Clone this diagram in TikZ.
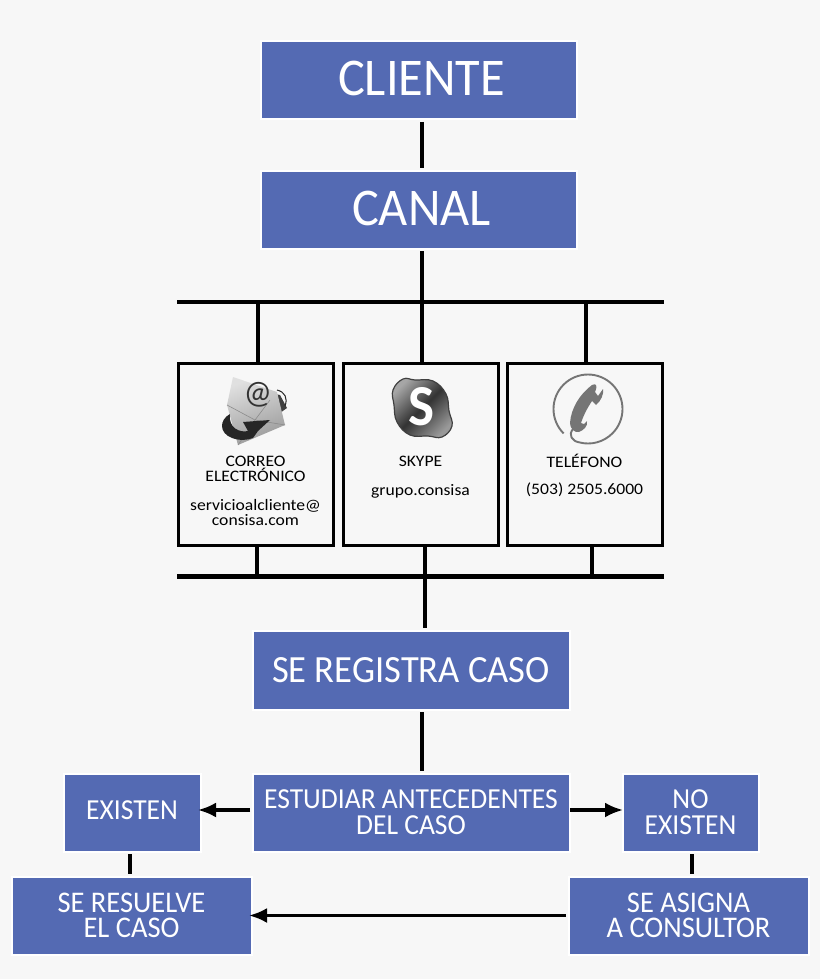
\documentclass[tikz,border=0pt]{standalone}
\usepackage{fontspec}
\setmainfont[FakeStretch=0.95]{Carlito}
\newfontfamily\smallfont[FakeStretch=1.1]{Carlito}
\usetikzlibrary{arrows.meta, positioning}
\definecolor{boxblue}{HTML}{546AB3}
\definecolor{pagegray}{HTML}{F7F7F7}
\definecolor{phonegray}{HTML}{757575}
\tikzset{
  bluebox/.style={draw=white, line width=2pt, fill=boxblue, text=white, align=center, inner sep=0pt, outer sep=2.5pt},
  canalbox/.style={draw=black, line width=3pt, fill=pagegray, minimum width=155pt, minimum height=182pt, outer sep=0pt},
  smalltext/.style={align=center, text=black, font=\smallfont\fontsize{16}{15}\selectfont, inner sep=0pt},
  conn/.style={draw=black, line width=3.2pt},
  bus/.style={draw=black, line width=4.2pt},
  busthick/.style={draw=black, line width=5pt},
}
\begin{document}
\begin{tikzpicture}[x=1pt,y=-1pt,>={Latex[length=18pt,width=15pt]}]
\fill[pagegray] (0,0) rectangle (820,979);
\useasboundingbox (0,0) rectangle (820,979);

% upper boxes
\node[bluebox, minimum width=316pt, minimum height=78pt, text depth=4pt, font=\fontsize{53}{53}\selectfont] (cliente) at (418.5,80.5) {\hspace*{6pt}CLIENTE};
\node[bluebox, minimum width=316pt, minimum height=78pt, text depth=2pt, font=\fontsize{53}{53}\selectfont] (canal) at (418.5,209.5) {\hspace*{6pt}CANAL};

% buses
\coordinate (busTopL) at (177,302);
\coordinate (busTopR) at (664,302);
\coordinate (busBotL) at (177,576);
\coordinate (busBotR) at (664,576);
\coordinate (trunkTop) at (422,302);
\coordinate (trunkBot) at (425,576);
\draw[bus] (busTopL) -- (busTopR);
\draw[busthick] (busBotL) -- (busBotR);

% channel boxes
\node[canalbox] (correo) at (255.5,454.5) {};
\node[canalbox] (skype) at (420.5,454.5) {};
\node[canalbox] (telefono) at (584.5,454.5) {};

\node[smalltext] (correoT) at (255.5,468.5) {CORREO\\ELECTRÓNICO};
\node[smalltext] (correoM) at (255.5,512.5) {servicioalcliente@\\consisa.com};
\node[smalltext] (skypeT) at (420.5,461) {SKYPE};
\node[smalltext] (skypeM) at (420.5,491) {grupo.consisa};
\node[smalltext] (telefonoT) at (584.5,461) {TELÉFONO};
\node[smalltext] (telefonoM) at (584.5,490) {(503) 2505.6000};

% envelope icon
\fill[black!75] (227,405) -- (240,388) -- (280,395) -- (287,408) -- (270,420) -- cycle;
\shade[left color=black!12, right color=black!40, shading angle=20] (233,377) -- (277,392) -- (285,425) -- (238,445) -- (227,405) -- cycle;
\draw[black!45, line width=0.6pt] (227,405) -- (255,420) -- (285,425) (238,445) -- (255,420) -- (270,400);
\node[inner sep=0pt, text=black!80, font=\fontsize{33}{33}\selectfont] (at) at (258,395) {@};
\draw[black!85, line width=1pt] (277,390) .. controls (285,392) and (288,398) .. (285,406);
\fill[black!85] (230,414) .. controls (219,420) and (219,433) .. (232,438) .. controls (240,441) and (248,440) .. (253,438) -- (258,431) -- (270,420) -- (243,422) -- (248,431) .. controls (240,433) and (228,428) .. (230,414) -- cycle;

% skype icon
\shade[top color=black!35, bottom color=black!40, middle color=black!80, shading angle=45, draw=black!75, line width=1.2pt]
  plot[smooth cycle, tension=0.7] coordinates {(393,390) (403,379) (415,380) (433,381) (446,394) (449,411) (452,426) (442,437) (428,436) (410,435) (397,422) (394,405)};
\node[inner sep=0pt, text=white, font=\bfseries\fontsize{58}{58}\selectfont] (skypeS) at (421.5,407) {S};

% phone icon
\draw[phonegray, line width=1.9pt] (563.6,433.4) arc[start angle=135, end angle=465, radius=34.5] .. controls (572,441) and (568,435) .. (573,429);
\fill[phonegray] (592,385) .. controls (596,383) and (598,385) .. (595,392) -- (598,396) -- (603,389) .. controls (604,394) and (601,401) .. (596,405) -- (592,401) .. controls (586,410) and (583,417) .. (581,423) -- (584,424) -- (587,421) .. controls (588,426) and (584,430) .. (579,432) .. controls (574,433) and (570,428) .. (570,423) .. controls (571,408) and (580,394) .. (592,385) -- cycle;

% lower boxes
\node[bluebox, minimum width=317pt, minimum height=79pt, font=\fontsize{38.5}{38.5}\selectfont] (registra) at (411,670) {SE REGISTRA CASO};
\node[bluebox, minimum width=317pt, minimum height=78pt, font=\fontsize{29}{26}\selectfont] (estudiar) at (411,812.5) {ESTUDIAR ANTECEDENTES\\DEL CASO};
\node[bluebox, minimum width=137pt, minimum height=78pt, text depth=4pt, font=\fontsize{29}{26}\selectfont] (existen) at (132,812.5) {EXISTEN};
\node[bluebox, minimum width=136pt, minimum height=78pt, font=\fontsize{29}{26}\selectfont] (noexisten) at (690.5,812.5) {NO\\EXISTEN};
\node[bluebox, minimum width=240pt, minimum height=78pt, font=\fontsize{30}{25.5}\selectfont] (resuelve) at (131.5,915.5) {SE RESUELVE\\EL CASO};
\node[bluebox, minimum width=240pt, minimum height=78pt, font=\fontsize{30}{25.5}\selectfont] (asigna) at (688.5,915.5) {SE ASIGNA\\A CONSULTOR};

% connectors
\draw[conn] (trunkTop |- cliente.south) -- (trunkTop |- canal.north);
\draw[conn] (trunkTop |- canal.south) -- (trunkTop);
\draw[bus] (trunkTop) -- (trunkTop |- skype.north);
\coordinate (dropA) at (258,302);
\coordinate (dropC) at (586,302);
\draw[bus] (dropA) -- (dropA |- correo.north);
\draw[bus] (dropC) -- (dropC |- telefono.north);
\coordinate (riseA) at (257,576);
\coordinate (riseC) at (592,576);
\draw[bus] (riseA |- correo.south) -- (riseA);
\draw[bus] (trunkBot |- skype.south) -- (trunkBot);
\draw[bus] (riseC |- telefono.south) -- (riseC);
\draw[conn] (trunkBot) -- (trunkBot |- registra.north);
\draw[conn] (trunkTop |- registra.south) -- (trunkTop |- estudiar.north);
\draw[conn,->,shorten >=-5pt] ([yshift=2.5pt]estudiar.west) -- ([yshift=2.5pt]existen.east);
\draw[conn,->,shorten <=-2pt,shorten >=-3pt] ([yshift=2.5pt]estudiar.east) -- ([yshift=2.5pt]noexisten.west);
\coordinate (leftLink) at (130,860);
\coordinate (rightLink) at (692,860);
\draw[conn] (leftLink |- existen.south) -- (leftLink |- resuelve.north);
\draw[conn] (rightLink |- noexisten.south) -- (rightLink |- asigna.north);
\draw[conn,->,shorten >=-5pt] (asigna.west) -- (resuelve.east);
\end{tikzpicture}
\end{document}
